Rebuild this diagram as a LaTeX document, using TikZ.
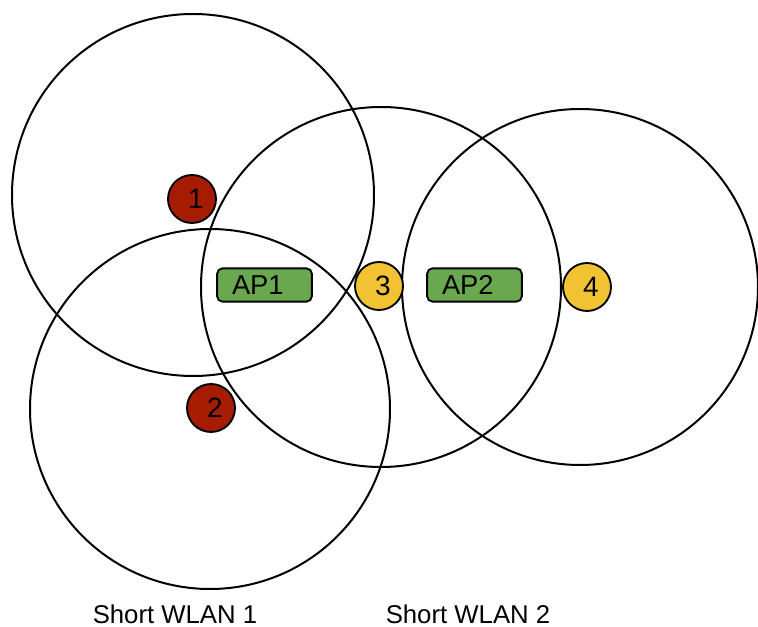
\documentclass[tikz,border=0pt]{standalone}
\usepackage{fontspec}
\setmainfont{Liberation Sans}
\begin{document}
\begin{tikzpicture}[x=0.75pt,y=-0.75pt,
  coverage/.style={draw=black,line width=1.5pt},
  client/.style={circle,draw=black,line width=1.4pt,minimum size=36pt,inner sep=0pt,font=\fontsize{21pt}{23pt}\selectfont},
  redclient/.style={client,fill=clientred},
  yellowclient/.style={client,fill=clientyellow},
  ap/.style={rectangle,rounded corners=4pt,draw=black,line width=1.4pt,fill=apgreen,minimum width=71pt,minimum height=25pt,inner sep=0pt,font=\fontsize{20.5pt}{22pt}\selectfont},
  caption/.style={font=\fontsize{19.3pt}{22pt}\selectfont}]
\definecolor{clientred}{HTML}{A61C00}
\definecolor{clientyellow}{HTML}{F1C232}
\definecolor{apgreen}{HTML}{6AA84F}
\useasboundingbox (0,0) rectangle (758,627);
\fill[white] (0,0) rectangle (758,627);
% coverage circles
\draw[coverage] (193,195) circle[radius=181*0.75pt];
\draw[coverage] (210,409) circle[radius=180*0.75pt];
\draw[coverage] (381,287) circle[radius=180*0.75pt];
\draw[coverage] (580,287) circle[radius=178*0.75pt];
% stations (digits sit slightly right of centre)
\node[redclient] (c1) at (192,199) {\hspace*{6pt}1};
\node[redclient] (c2) at (211,408) {\hspace*{6pt}2};
\node[yellowclient] (c3) at (379,286) {\hspace*{6pt}3};
\node[yellowclient] (c4) at (587,287) {\hspace*{6pt}4};
% access points (labels sit slightly left of centre)
\node[ap] (ap1) at (264.5,285) {AP1\hspace*{10pt}};
\node[ap] (ap2) at (474.5,285) {AP2\hspace*{10pt}};
% captions
\node[caption] (w1) at (175,614) {Short WLAN 1};
\node[caption] (w2) at (468,614) {Short WLAN 2};
\end{tikzpicture}
\end{document}
